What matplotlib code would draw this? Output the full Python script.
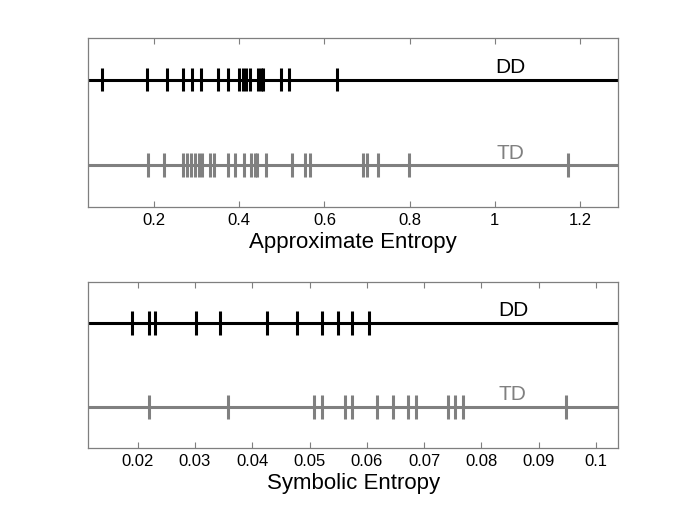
import matplotlib
matplotlib.use("Agg")
import matplotlib.pyplot as plt

plt.rcParams['font.family'] = ['Liberation Sans', 'DejaVu Sans']

# Approximate entropy values
apen_dd = [0.078, 0.183, 0.230, 0.267, 0.289, 0.310, 0.351, 0.374, 0.399, 0.409,
           0.417, 0.425, 0.444, 0.451, 0.456, 0.497, 0.518, 0.629]
apen_td = [0.187, 0.224, 0.267, 0.278, 0.287, 0.296, 0.306, 0.313, 0.331, 0.341,
           0.373, 0.390, 0.412, 0.427, 0.437, 0.443, 0.464, 0.524, 0.554, 0.566,
           0.691, 0.699, 0.727, 0.799, 1.172]

# Symbolic entropy values
syen_dd = [0.0191, 0.0219, 0.0230, 0.0302, 0.0343, 0.0425, 0.0479, 0.0521,
           0.0549, 0.0575, 0.0604]
syen_td = [0.0219, 0.0357, 0.0508, 0.0521, 0.0562, 0.0575, 0.0617, 0.0645,
           0.0671, 0.0686, 0.0741, 0.0754, 0.0768, 0.0947]

apen_ticks = [0.2, 0.4, 0.6, 0.8, 1.0, 1.2]
apen_ticklabels = ['0.2', '0.4', '0.6', '0.8', '1', '1.2']
syen_ticks = [0.02, 0.03, 0.04, 0.05, 0.06, 0.07, 0.08, 0.09, 0.1]
syen_ticklabels = ['0.02', '0.03', '0.04', '0.05', '0.06', '0.07', '0.08', '0.09', '0.1']

GRAY = '#808080'
BOX = '#7f7f7f'


def strip_panel(ax, dd, td, xlim, ticks, ticklabels, xlabel, label_x):
    # horizontal baselines
    ax.plot(xlim, [1, 1], color='black', lw=2.2, solid_capstyle='butt')
    ax.plot(xlim, [0, 0], color=GRAY, lw=2.2, solid_capstyle='butt')
    # one vertical mark per subject
    ax.vlines(dd, 1 - 0.14, 1 + 0.14, color='black', lw=2.2)
    ax.vlines(td, -0.14, 0.14, color=GRAY, lw=2.2)
    ax.text(label_x, 1.03, 'DD', color='black', fontsize=15, ha='center', va='bottom')
    ax.text(label_x, 0.03, 'TD', color=GRAY, fontsize=15, ha='center', va='bottom')

    ax.set_xlim(xlim)
    ax.set_ylim(-0.49, 1.485)
    ax.set_yticks([])
    ax.set_xticks(ticks)
    ax.set_xticklabels(ticklabels)
    ax.tick_params(axis='x', direction='in', top=True, length=4, width=0.8,
                   color=BOX, labelsize=12, pad=4)
    for s in ax.spines.values():
        s.set_color(BOX)
        s.set_linewidth(0.9)
    ax.set_xlabel(xlabel, fontsize=16, labelpad=3)


fig = plt.figure(figsize=(6.85, 5.13), dpi=100)
ax1 = fig.add_axes([0.129, 0.5965, 0.7737, 0.3294])
ax2 = fig.add_axes([0.129, 0.1267, 0.7737, 0.3236])

strip_panel(ax1, apen_dd, apen_td, (0.046, 1.29), apen_ticks, apen_ticklabels,
            'Approximate Entropy', 1.036)
strip_panel(ax2, syen_dd, syen_td, (0.0114, 0.1039), syen_ticks, syen_ticklabels,
            'Symbolic Entropy', 0.0855)

fig.savefig('out.png', dpi=100)
